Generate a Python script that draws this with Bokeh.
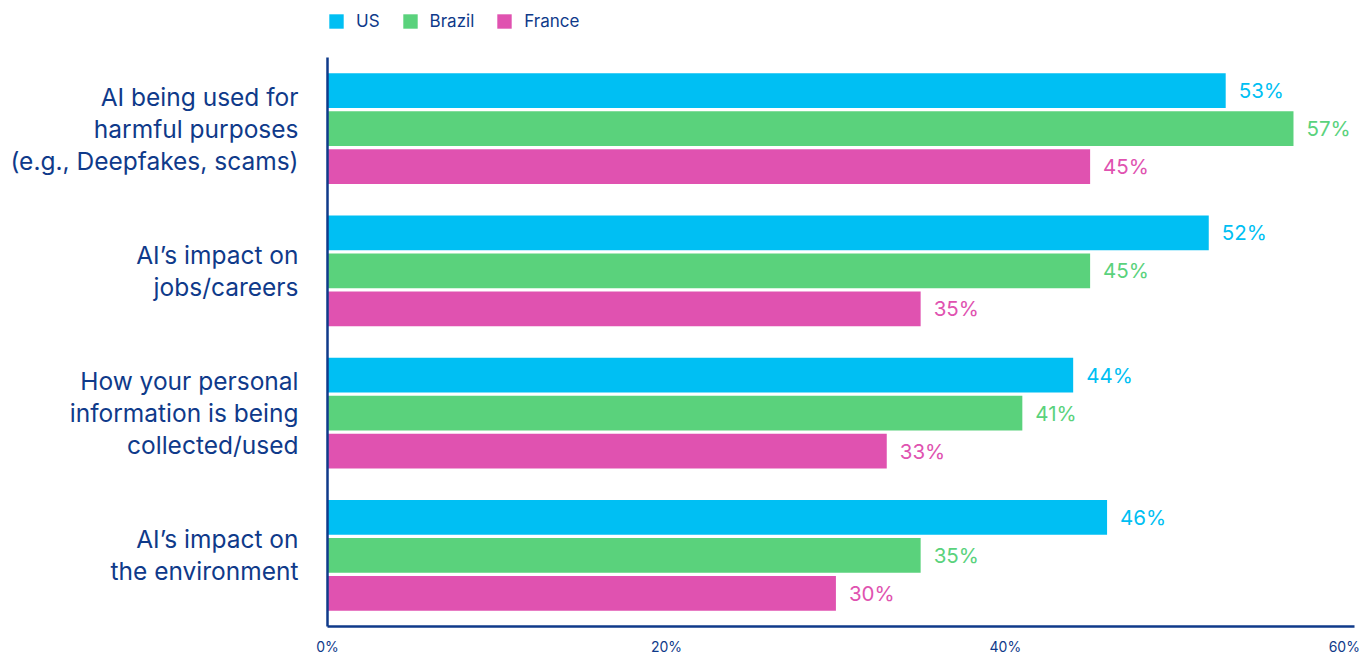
from bokeh.plotting import figure
from bokeh.layouts import column
from bokeh.models import (ColumnDataSource, FactorRange, Range1d, Legend, LegendItem, FixedTicker,
                          LabelSet)
from bokeh.transform import dodge
from bokeh.core.properties import value
from bokeh.embed import file_html
from bokeh.resources import INLINE

categories = [
    "AI being used for\nharmful purposes\n(e.g., Deepfakes, scams)",
    "AI’s impact on\njobs/careers",
    "How your personal\ninformation is being\ncollected/used",
    "AI’s impact on\nthe environment",
]
series = ["US", "Brazil", "France"]
us = [53, 52, 44, 46]
brazil = [57, 45, 41, 35]
france = [45, 35, 33, 30]
colors = ["#00bff3", "#5ad27c", "#e052b0"]
x_ticks = [0, 20, 40, 60]

NAVY = "#0f3a8a"
FONT = "Inter"

# main chart
p = figure(
    width=1361, height=600,
    y_range=FactorRange(factors=list(reversed(categories)), range_padding=0),
    x_range=Range1d(0, 60.6),
    output_backend="svg", toolbar_location=None,
    min_border_left=327, min_border_right=7, min_border_top=0, min_border_bottom=30,
)
p.outline_line_color = None
p.grid.visible = False
p.background_fill_color = "white"
p.border_fill_color = "white"

# legend strip: its swatch renderers have zero height and lie outside its x range
lg = figure(width=1361, height=57, output_backend="svg", toolbar_location=None,
            x_axis_location=None, y_axis_location=None,
            min_border_left=0, min_border_right=0, min_border_top=0, min_border_bottom=0,
            x_range=Range1d(-2, -1),
            y_range=FactorRange(factors=list(reversed(categories)), range_padding=0))
lg.outline_line_color = None
lg.grid.visible = False
lg.background_fill_color = "white"
lg.border_fill_color = "white"

offsets = [0.267, 0.0, -0.267]
values = [us, brazil, france]
swatches = []
for name, vals, col, off in zip(series, values, colors, offsets):
    src = ColumnDataSource(dict(cat=categories, val=vals, lab=[f"{v}%" for v in vals]))
    p.hbar(y=dodge("cat", off, range=p.y_range), left=0, right="val", height=0.245,
           source=src, fill_color=col, line_color=None)
    labels = LabelSet(x="val", y=dodge("cat", off, range=p.y_range), text="lab", source=src,
                      x_offset=13, text_baseline="middle", text_align="left",
                      text_color=col, text_font=value(FONT), text_font_size="20.5px")
    p.add_layout(labels)
    sw = lg.hbar(y=dodge("cat", off, range=lg.y_range), left=0, right="val", height=0,
                 source=src, fill_color=col, line_color=None)
    swatches.append(sw)

p.xaxis.ticker = FixedTicker(ticks=x_ticks)
p.xaxis.major_label_overrides = {t: f"{t}%" for t in x_ticks}
p.xaxis.major_tick_line_color = None
p.xaxis.minor_tick_line_color = None
p.xaxis.major_tick_out = 0
p.xaxis.major_tick_in = 0
p.xaxis.minor_tick_out = 0
p.xaxis.minor_tick_in = 0
p.xaxis.axis_line_color = NAVY
p.xaxis.axis_line_width = 2.5
p.xaxis.major_label_text_color = NAVY
p.xaxis.major_label_text_font = FONT
p.xaxis.major_label_text_font_size = "14px"
p.xaxis.major_label_standoff = 11

p.yaxis.major_tick_line_color = None
p.yaxis.minor_tick_line_color = None
p.yaxis.major_tick_out = 0
p.yaxis.major_tick_in = 0
p.yaxis.minor_tick_out = 0
p.yaxis.minor_tick_in = 0
p.yaxis.axis_line_color = NAVY
p.yaxis.axis_line_width = 2.5
p.yaxis.major_label_text_color = NAVY
p.yaxis.major_label_text_font = FONT
p.yaxis.major_label_text_font_size = "24.5px"
p.yaxis.major_label_text_line_height = 1.065
p.yaxis.major_label_standoff = 29

legend = Legend(
    items=[LegendItem(label=s, renderers=[r]) for s, r in zip(series, swatches)],
    orientation="horizontal", location=(0, 26),
    glyph_width=18, glyph_height=18, label_standoff=11, spacing=21,
    padding=0, margin=0, border_line_color=None, background_fill_alpha=0,
    label_text_font=FONT, label_text_font_size="17px", label_text_color=NAVY,
    label_height=18,
)
lg.add_layout(legend, "center")

layout = column(lg, p, spacing=0)
open("out.html", "w").write(file_html(layout, INLINE))
